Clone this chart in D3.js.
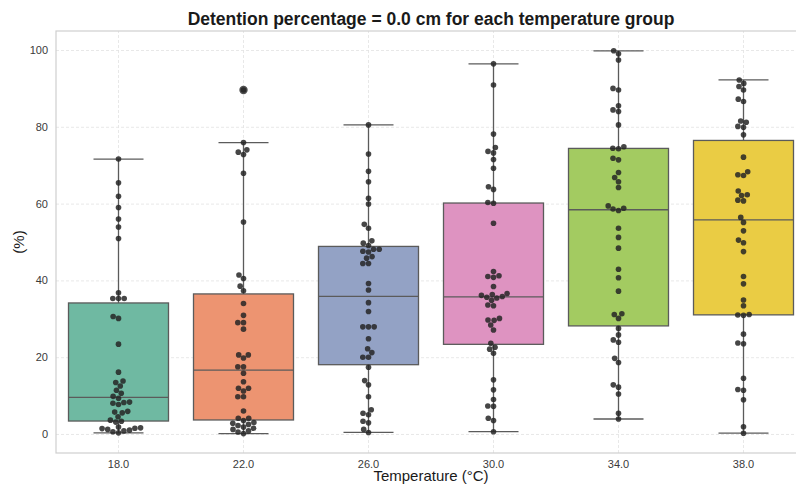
<!DOCTYPE html>
<html>
<head>
<meta charset="utf-8">
<script src="https://cdn.jsdelivr.net/npm/d3@7"></script>
<style>
  body { margin: 0; background: #fff; }
  svg { display: block; font-family: "Liberation Sans", Arial, sans-serif; }
</style>
</head>
<body>
<div id="display"></div>
<script>
const width = 796, height = 486
const plot = {left: 56, right: 806, top: 31, bottom: 453}

// groups and colours
const temps = ["18.0", "22.0", "26.0", "30.0", "34.0", "38.0"]
const palette = ["#66c2a5", "#fc8d62", "#8da0cb", "#e78ac3", "#a6d854", "#ffd92f"]
const yTicks = [0, 20, 40, 60, 80, 100]

// detention percentage per temperature group
const t18 = [71.6, 65.4, 61.9, 59.0, 56.0, 53.9, 50.9, 36.8, 35.3, 35.3, 35.3, 30.6, 30.1, 23.4, 16.1,
    13.8, 13.4, 12.5, 11.4, 10.6, 9.8, 9.3, 8.3, 8.2, 8.0, 7.7, 5.9, 5.7, 5.5, 4.5, 3.6, 3.3, 3.1,
    1.8, 1.6, 1.5, 1.4, 1.2, 1.0, 0.8, 0.6, 0.3]
const t22 = [89.6, 75.9, 74.0, 73.4, 72.8, 67.9, 55.2, 41.4, 40.5, 38.5, 37.3, 34.0, 30.9, 29.0, 29.0,
    27.3, 20.6, 20.6, 19.8, 17.5, 17.5, 15.8, 13.6, 11.9, 11.9, 11.2, 9.7, 9.7, 6.0, 4.1, 4.1, 3.5,
    3.0, 2.8, 2.5, 2.2, 1.8, 1.5, 1.2, 0.8, 0.5, 0.1]
const t26 = [80.5, 72.9, 68.4, 65.7, 61.4, 59.9, 54.6, 53.6, 50.3, 49.7, 49.1, 48.1, 48.1, 47.6, 47.4,
    46.2, 45.8, 44.4, 44.4, 39.2, 37.5, 34.2, 31.9, 27.9, 27.9, 27.9, 24.8, 22.2, 21.2, 20.0, 20.0,
    17.4, 13.9, 12.8, 9.7, 6.3, 5.4, 5.0, 3.3, 2.9, 1.2, 0.4]
const t30 = [96.4, 90.9, 78.1, 74.6, 73.6, 73.2, 71.5, 69.2, 64.4, 63.7, 60.3, 60.1, 54.9, 42.3, 41.2,
    41.0, 40.8, 38.4, 36.6, 36.3, 36.1, 35.8, 35.6, 35.4, 34.8, 33.6, 33.4, 30.1, 29.7, 29.6, 28.4,
    27.1, 23.6, 22.6, 22.1, 21.0, 14.1, 11.5, 9.0, 7.3, 7.2, 4.1, 3.5, 0.6]
const t34 = [99.8, 99.0, 97.4, 90.0, 89.6, 85.5, 84.4, 84.0, 80.5, 74.8, 74.4, 74.3, 71.8, 71.4, 68.1,
    66.8, 65.7, 64.2, 59.4, 58.8, 58.6, 58.2, 53.6, 51.2, 48.4, 42.9, 40.7, 37.2, 31.3, 31.1, 30.1,
    27.5, 25.8, 24.5, 23.9, 19.7, 18.6, 12.8, 12.2, 10.4, 5.4, 3.9]
const t38 = [92.2, 91.3, 90.5, 89.6, 87.2, 86.6, 81.5, 81.2, 80.1, 79.9, 77.9, 72.1, 68.3, 67.5, 67.3,
    63.3, 62.3, 62.1, 60.9, 60.7, 56.4, 55.1, 52.9, 50.5, 49.8, 47.5, 41.0, 39.1, 34.9, 33.4, 31.1,
    31.0, 30.9, 26.0, 23.7, 23.5, 14.5, 11.6, 11.4, 8.9, 1.9, 0.2]
const groups = [t18, t22, t26, t30, t34, t38]

const svg = d3.select('#display').append('svg')
    .attr('width', width)
    .attr('height', height)

const xScale = d3.scaleBand()
    .domain(temps)
    .range([plot.left, plot.right])
const bw = xScale.bandwidth()
const cx = t => xScale(t) + bw / 2

const yScale = d3.scaleLinear()
    .domain([-4.95, 104.95])
    .range([plot.bottom, plot.top])

// grid
svg.append('g')
    .attr('transform', 'translate(' + plot.left + ',0)')
    .call(d3.axisLeft(yScale).tickValues(yTicks).tickSize(-(plot.right - plot.left)).tickFormat(''))
    .call(g => g.select('.domain').remove())
    .selectAll('line')
        .attr('stroke', '#e2e2e2')
        .attr('stroke-width', 0.8)
        .attr('stroke-dasharray', '3,2')
svg.append('g')
    .attr('transform', 'translate(0,' + plot.bottom + ')')
    .call(d3.axisBottom(xScale).tickSize(-(plot.bottom - plot.top)).tickFormat(''))
    .call(g => g.select('.domain').remove())
    .selectAll('line')
        .attr('stroke', '#e2e2e2')
        .attr('stroke-width', 0.8)
        .attr('stroke-dasharray', '3,2')

// frame
svg.append('rect')
    .attr('x', plot.left)
    .attr('y', plot.top)
    .attr('width', plot.right - plot.left)
    .attr('height', plot.bottom - plot.top)
    .attr('fill', 'none')
    .attr('stroke', '#cfcfcf')
    .attr('stroke-width', 1.2)

// tick labels
const yAxis = svg.append('g')
    .attr('transform', 'translate(' + plot.left + ',0)')
    .call(d3.axisLeft(yScale).tickValues(yTicks).tickSize(0).tickPadding(8))
yAxis.select('.domain').remove()
yAxis.selectAll('text').style('font-size', '11px').attr('fill', '#3a3a3a')

const xAxis = svg.append('g')
    .attr('transform', 'translate(0,' + plot.bottom + ')')
    .call(d3.axisBottom(xScale).tickSize(0).tickPadding(7))
xAxis.select('.domain').remove()
xAxis.selectAll('text').style('font-size', '11px').attr('fill', '#3a3a3a')

// boxes
const edge = '#5b5b5b'
function boxStats(vals) {
    const s = vals.slice().sort(d3.ascending)
    const q1 = d3.quantileSorted(s, 0.25), med = d3.quantileSorted(s, 0.5), q3 = d3.quantileSorted(s, 0.75)
    const iqr = q3 - q1
    const lo = d3.min(s.filter(v => v >= q1 - 1.5 * iqr))
    const hi = d3.max(s.filter(v => v <= q3 + 1.5 * iqr))
    return {q1, med, q3, lo, hi, out: s.filter(v => v < lo || v > hi)}
}

const boxW = bw * 0.8
temps.forEach((t, i) => {
    const st = boxStats(groups[i])
    const c = cx(t)
    const g = svg.append('g')
    const fill = d3.hsl(palette[i])
    fill.s *= 0.8

    g.append('line').attr('x1', c).attr('x2', c).attr('y1', yScale(st.q3)).attr('y2', yScale(st.hi))
    g.append('line').attr('x1', c).attr('x2', c).attr('y1', yScale(st.q1)).attr('y2', yScale(st.lo))
    g.append('line').attr('x1', c - boxW / 4).attr('x2', c + boxW / 4).attr('y1', yScale(st.hi)).attr('y2', yScale(st.hi))
    g.append('line').attr('x1', c - boxW / 4).attr('x2', c + boxW / 4).attr('y1', yScale(st.lo)).attr('y2', yScale(st.lo))
    g.append('rect')
        .attr('x', c - boxW / 2)
        .attr('y', yScale(st.q3))
        .attr('width', boxW)
        .attr('height', yScale(st.q1) - yScale(st.q3))
        .attr('fill', fill.formatHex())
    g.append('line').attr('x1', c - boxW / 2).attr('x2', c + boxW / 2).attr('y1', yScale(st.med)).attr('y2', yScale(st.med))
    g.selectAll('line, rect').attr('stroke', edge).attr('stroke-width', 1.3)

    g.selectAll('.flier').data(st.out)
        .enter()
        .append('circle')
            .attr('cx', c)
            .attr('cy', d => yScale(d))
            .attr('r', 4.2)
            .attr('fill', '#505050')
})

// swarm layout: place each point as close to the centre as it can go
function swarm(vals, c, d) {
    const pts = vals.map(v => ({v, y: yScale(v)})).sort((a, b) => b.y - a.y)
    const placed = []
    pts.forEach(p => {
        const near = placed.filter(q => Math.abs(q.y - p.y) < d)
        const cand = [0]
        near.forEach(q => {
            const dx = Math.sqrt(d * d - (q.y - p.y) ** 2)
            cand.push(q.off + dx, q.off - dx)
        })
        cand.sort((a, b) => Math.abs(a) - Math.abs(b) || a - b)
        const ok = cand.find(o => near.every(q => (o - q.off) ** 2 + (q.y - p.y) ** 2 >= d * d - 0.01))
        p.off = ok
        placed.push(p)
    })
    return placed.map(p => ({x: c + p.off, y: p.y}))
}

temps.forEach((t, i) => {
    svg.append('g').selectAll('circle')
        .data(swarm(groups[i], cx(t), 5.7))
        .enter()
        .append('circle')
            .attr('cx', d => d.x)
            .attr('cy', d => d.y)
            .attr('r', 2.8)
            .attr('fill', '#262626')
            .attr('fill-opacity', 0.85)
})

// titles
svg.append('text')
    .attr('x', (plot.left + plot.right) / 2)
    .attr('y', 25)
    .attr('text-anchor', 'middle')
    .style('font-size', '17.5px')
    .style('font-weight', 'bold')
    .attr('fill', '#1a1a1a')
    .text('Detention percentage = 0.0 cm for each temperature group')

svg.append('text')
    .attr('x', (plot.left + plot.right) / 2)
    .attr('y', 481)
    .attr('text-anchor', 'middle')
    .style('font-size', '15px')
    .attr('fill', '#1a1a1a')
    .text('Temperature (°C)')

svg.append('text')
    .attr('transform', 'translate(24,' + ((plot.top + plot.bottom) / 2) + ') rotate(-90)')
    .attr('text-anchor', 'middle')
    .style('font-size', '15px')
    .attr('fill', '#1a1a1a')
    .text('(%)')
</script>
</body>
</html>
